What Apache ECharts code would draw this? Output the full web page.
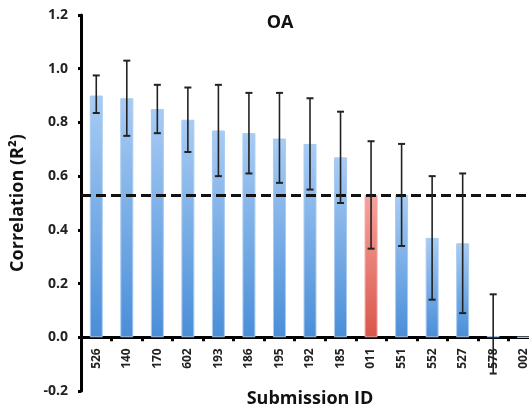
<!DOCTYPE html>
<html><head><meta charset="utf-8">
<script src="https://cdn.jsdelivr.net/npm/echarts@6/dist/echarts.min.js"></script>
<style>html,body{margin:0;padding:0;background:#fff}#c{width:529px;height:412px}</style>
</head><body><div id="c"></div>
<script>
var categories = ['526','140','170','602','193','186','195','192','185','011','551','552','527','578','002'];
var values     = [0.90, 0.89, 0.85, 0.81, 0.77, 0.76, 0.74, 0.72, 0.67, 0.53, 0.53, 0.37, 0.35, 0.005, 0];
var errLow     = [0.835, 0.75, 0.76, 0.69, 0.60, 0.61, 0.575, 0.55, 0.50, 0.33, 0.34, 0.14, 0.09, -0.135, null];
var errHigh    = [0.975, 1.03, 0.94, 0.93, 0.94, 0.91, 0.91, 0.89, 0.84, 0.73, 0.72, 0.60, 0.61, 0.16, null];
var highlight  = '011';
var threshold  = 0.527;

var FONT = '"Open Sans", "Liberation Sans", sans-serif';
var blueGrad = new echarts.graphic.LinearGradient(0,0,0,1,[{offset:0,color:'#a8ccf4'},{offset:1,color:'#4a8ed8'}]);
var redGrad = new echarts.graphic.LinearGradient(0,0,0,1,[{offset:0,color:'#f7a39d'},{offset:1,color:'#d9564a'}]);

var barData = values.map(function(v, i){
  var isHi = categories[i] === highlight;
  return {value: v, itemStyle: {color: isHi ? redGrad : blueGrad, borderColor: isHi ? '#f0a8a3' : '#a9cbf0', borderWidth: 1}};
});
var errData = [];
for (var i = 0; i < categories.length; i++) {
  if (errLow[i] !== null) errData.push([i, errLow[i], errHigh[i]]);
}

var yMin = -0.2, yMax = 1.2;
var gridTop = 15, gridBottom = 21, H = 412;
var plotH = H - gridTop - gridBottom;
var zeroOffset = -plotH * (0 - yMin) / (yMax - yMin);

var chart = echarts.init(document.getElementById('c'), null, {renderer:'canvas'});
chart.setOption({
  animation: false,
  title: {text: 'OA', left: 275, top: 9, textAlign: 'center',
    textStyle: {fontFamily: FONT, fontWeight: 'bold', fontSize: 18, color: '#111'}},
  grid: {left: 81, right: -10, top: gridTop, bottom: gridBottom, containLabel: false, outerBoundsMode: 'none'},
  xAxis: {
    type: 'category', data: categories,
    offset: zeroOffset,
    name: 'Submission ID', nameLocation: 'middle', nameGap: 53, nameMoveOverlap: false,
    nameTextStyle: {fontFamily: FONT, fontWeight: 'bold', fontSize: 18, color: '#111'},
    axisLine: {onZero: false, lineStyle: {color: '#000', width: 3}},
    axisTick: {show: true, inside: false, length: 4, lineStyle: {color: '#000', width: 3}, alignWithLabel: false},
    axisLabel: {rotate: 90, margin: 11, fontFamily: FONT, fontWeight: 'bold', fontSize: 12, color: '#222'}
  },
  yAxis: {
    type: 'value', min: yMin, max: yMax, interval: 0.2,
    name: 'Correlation (R²)', nameLocation: 'middle', nameGap: 54, nameRotate: 90,
    nameTextStyle: {fontFamily: FONT, fontWeight: 'bold', fontSize: 18, color: '#111'},
    axisLine: {show: true, lineStyle: {color: '#000', width: 3}},
    axisTick: {show: true, length: 3, lineStyle: {color: '#000', width: 3}},
    splitLine: {show: false},
    axisLabel: {margin: 13, fontFamily: FONT, fontWeight: 'bold', fontSize: 14, color: '#222',
      formatter: function(v){ return v.toFixed(1); }}
  },
  series: [
    {type: 'bar', data: barData, barWidth: 13, z: 2,
      markLine: {silent: true, symbol: 'none', label: {show: false},
        lineStyle: {color: '#111', width: 2.8, type: [10, 5]},
        data: [{yAxis: threshold}]}},
    {type: 'custom', data: errData, z: 5,
      renderItem: function(params, api){
        var x = api.value(0);
        var lo = api.coord([x, api.value(1)]);
        var hi = api.coord([x, api.value(2)]);
        var cw = 3.5;
        return {type: 'group', children: [
          {type: 'line', shape: {x1: lo[0], y1: lo[1], x2: hi[0], y2: hi[1]}, style: {stroke: '#222', lineWidth: 1.6}},
          {type: 'line', shape: {x1: lo[0]-cw, y1: lo[1], x2: lo[0]+cw, y2: lo[1]}, style: {stroke: '#222', lineWidth: 2}},
          {type: 'line', shape: {x1: hi[0]-cw, y1: hi[1], x2: hi[0]+cw, y2: hi[1]}, style: {stroke: '#222', lineWidth: 2}}
        ]};
      }}
  ]
});
</script></body></html>
